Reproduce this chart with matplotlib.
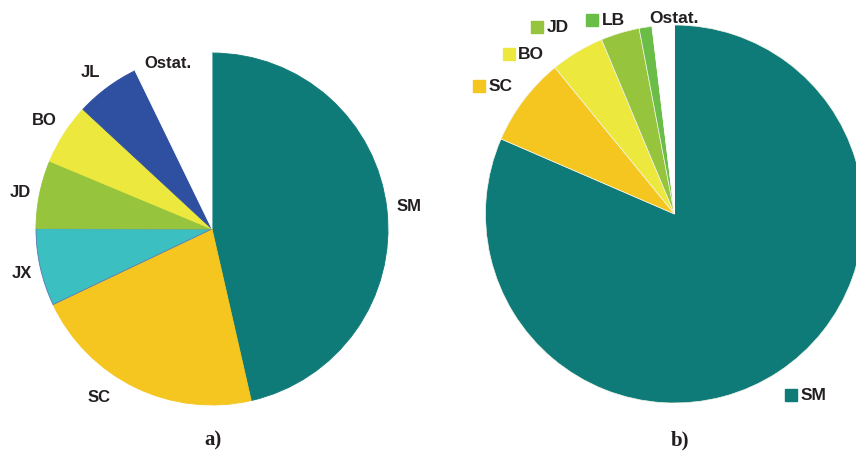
import matplotlib
matplotlib.use("Agg")
import matplotlib.pyplot as plt

# figure a)
labels_a = ["SM", "SC", "JX", "JD", "BO", "JL", "Ostat."]
shares_a = [46.4, 21.5, 7.1, 6.25, 5.6, 5.9, 7.2]
colors_a = ["#0f7b78", "#f5c520", "#3cbfc0", "#96c43d", "#ede83e", "#2f4fa1", "#ffffff"]

# figure b)
labels_b = ["SM", "SC", "BO", "JD", "LB", "Ostat."]
shares_b = [81.5, 7.6, 4.6, 3.3, 1.1, 1.9]
colors_b = ["#0f7b78", "#f5c520", "#ede83e", "#96c43d", "#6abd46", "#ffffff"]

# label anchors in pie-radius units
lab_pos_a = [(1.12, 0.125), (-0.64, -0.955), (-1.08, -0.25), (-1.09, 0.205),
             (-0.955, 0.614), (-0.69, 0.892), (-0.25, 0.943)]
lab_pos_b = [(0.614, -0.96), (-1.037, 0.675), (-0.878, 0.844), (-0.725, 0.987),
             (-0.434, 1.024), (-0.183, 1.037)]

W, H = 856, 451
fig = plt.figure(figsize=(W / 100, H / 100), dpi=100)


def pie_axes(cx, cy, r):
    # axes box so that the pie of radius 1 sits at pixel centre (cx, cy)
    ax = fig.add_axes([(cx - r) / W, (H - cy - r) / H, 2 * r / W, 2 * r / H])
    ax.axis("off")
    return ax


txt_kw = dict(fontfamily="Liberation Sans", fontweight="bold", color="#231f20")

# ---- a) ----
ax1 = pie_axes(212, 229, 176)
wedges, _ = ax1.pie(shares_a, colors=colors_a, startangle=90, counterclock=False,
                    radius=1, wedgeprops=dict(linewidth=0.6))
for w, c in zip(wedges, colors_a):
    w.set_edgecolor("#5a78b8" if c == "#3cbfc0" else c)
ax1.set_xlim(-1, 1)
ax1.set_ylim(-1, 1)
for lab, (x, y) in zip(labels_a, lab_pos_a):
    ax1.text(x, y, lab, ha="center", va="center", fontsize=12, **txt_kw)

# ---- b) ----
ax2 = pie_axes(674.5, 214, 189)
wedges, _ = ax2.pie(shares_b, colors=colors_b, startangle=90, counterclock=False,
                    radius=1, wedgeprops=dict(linewidth=0.5, edgecolor="#f4f4e8"))
wedges[-1].set_edgecolor("white")
ax2.set_xlim(-1, 1)
ax2.set_ylim(-1, 1)
for lab, c, (x, y) in zip(labels_b, colors_b, lab_pos_b):
    ax2.plot(x, y, marker="s", markersize=8, color=c, clip_on=False)
    ax2.annotate(lab, xy=(x, y), xytext=(7, 0), textcoords="offset points",
                 ha="left", va="center", fontsize=12.5, annotation_clip=False,
                 **txt_kw)

cap_kw = dict(fontfamily="Liberation Serif", fontweight="bold", fontsize=15,
              ha="center", va="center", color="#231f20")
fig.text(213 / W, 1 - 440 / H, "a)", **cap_kw)
fig.text(680 / W, 1 - 440 / H, "b)", **cap_kw)

fig.savefig("out.png", dpi=100)
